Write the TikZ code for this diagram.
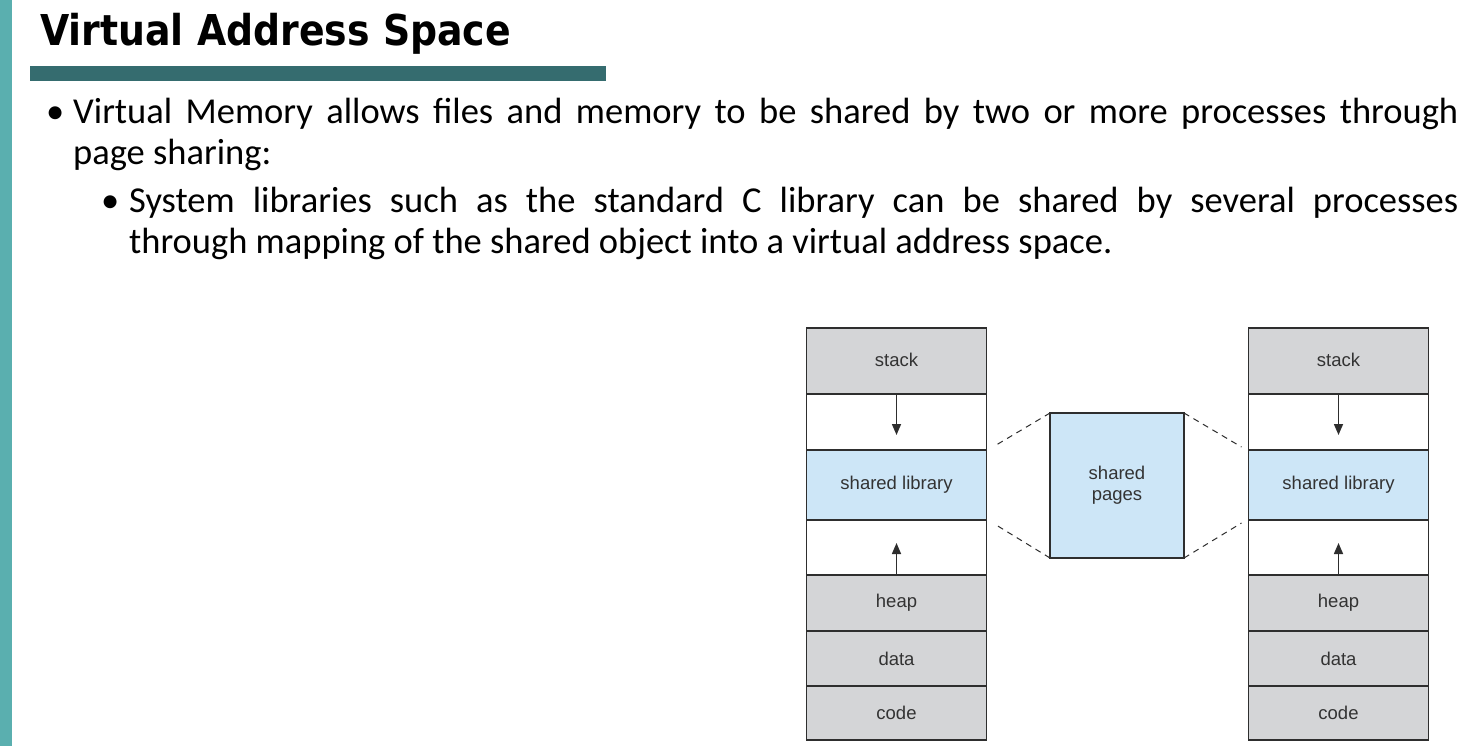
\documentclass[tikz,border=0pt]{standalone}
\usepackage{fontspec}
\setmainfont{Carlito}
\newfontfamily\titlefont{DejaVu Sans}
\newfontfamily\diagfont{Liberation Sans}
\usetikzlibrary{arrows.meta,calc}
\definecolor{tealbar}{HTML}{5AAFAF}
\definecolor{darkbar}{HTML}{356C6F}
\definecolor{cellgray}{HTML}{D4D5D7}
\definecolor{cellblue}{HTML}{CDE6F7}
\definecolor{edgegray}{HTML}{2E2E2E}
\definecolor{labelgray}{HTML}{333333}
\begin{document}
\begin{tikzpicture}[x=1pt,y=-1pt,
  cell/.style={draw=edgegray, line width=1.3pt, minimum width=180pt, inner sep=0pt, outer sep=0pt,
    font=\diagfont\fontsize{18.5}{21}\selectfont, text=labelgray, align=center},
  growarrow/.style={draw=edgegray, line width=1.5pt, -{Triangle[length=11pt,width=9pt]}},
  sharedash/.style={draw=edgegray, line width=1pt, dash pattern=on 6pt off 5pt},
  body/.style={anchor=base west, inner sep=0pt, font=\fontsize{36.5}{41}\selectfont}
]
\useasboundingbox (0,0) rectangle (1468,746);
\fill[white] (0,0) rectangle (1468,746);
\fill[tealbar] (0,0) rectangle (12,746);
\fill[darkbar] (30,66) rectangle (606,81);
\node[anchor=base west, inner sep=0pt] (title) at (40,46)
  {\scalebox{0.89}[1]{\titlefont\bfseries\fontsize{42.5}{50}\selectfont Virtual Address Space}};

\node[body] (b1) at (46,124) {•};
\node[body] (l1) at (73,124) {\makebox[1385pt][s]{Virtual Memory allows files and memory to be shared by two or more processes through}};
\node[body] (l2) at (73,165) {page sharing:};
\node[body] (b2) at (101,213) {•};
\node[body] (l3) at (129,213) {\makebox[1329pt][s]{System libraries such as the standard C library can be shared by several processes}};
\node[body] (l4) at (129,254) {through mapping of the shared object into a virtual address space.};

% left process
\node[cell, fill=cellgray, minimum height=66pt] (Lstack) at (896.5,361) {\raisebox{1.5pt}{stack}};
\node[cell, fill=white,    minimum height=56pt] (Lgap1)  at (896.5,422) {};
\node[cell, fill=cellblue, minimum height=70pt] (Llib)   at (896.5,485) {shared library};
\node[cell, fill=white,    minimum height=55pt] (Lgap2)  at (896.5,547.5) {};
\node[cell, fill=cellgray, minimum height=56pt] (Lheap)  at (896.5,603) {heap};
\node[cell, fill=cellgray, minimum height=55pt] (Ldata)  at (896.5,658.5) {data};
\node[cell, fill=cellgray, minimum height=54pt] (Lcode)  at (896.5,713) {code};

% right process
\node[cell, fill=cellgray, minimum height=66pt] (Rstack) at (1338.5,361) {\raisebox{1.5pt}{stack}};
\node[cell, fill=white,    minimum height=56pt] (Rgap1)  at (1338.5,422) {};
\node[cell, fill=cellblue, minimum height=70pt] (Rlib)   at (1338.5,485) {shared library};
\node[cell, fill=white,    minimum height=55pt] (Rgap2)  at (1338.5,547.5) {};
\node[cell, fill=cellgray, minimum height=56pt] (Rheap)  at (1338.5,603) {heap};
\node[cell, fill=cellgray, minimum height=55pt] (Rdata)  at (1338.5,658.5) {data};
\node[cell, fill=cellgray, minimum height=54pt] (Rcode)  at (1338.5,713) {code};

% shared pages
\node[cell, fill=cellblue, minimum width=134pt, minimum height=145pt] (pages) at (1117,485.5)
  {\raisebox{5.5pt}{\begin{tabular}{@{}c@{}}shared\\pages\end{tabular}}};

% growth arrows
\coordinate (Ldown) at (896.5,435);
\coordinate (Lup) at (896.5,543);
\coordinate (Rdown) at (1338.5,435);
\coordinate (Rup) at (1338.5,543);
\draw[growarrow] (Lstack.south) -- (Ldown);
\draw[growarrow] (Lheap.north) -- (Lup);
\draw[growarrow] (Rstack.south) -- (Rdown);
\draw[growarrow] (Rheap.north) -- (Rup);

% mapping lines
\coordinate (LT) at ($(Llib.north east)+(8,-4)$);
\coordinate (LB) at ($(Llib.south east)+(8,4)$);
\coordinate (RT) at ($(Rlib.north west)+(-7,-3)$);
\coordinate (RB) at ($(Rlib.south west)+(-7,3)$);
\draw[sharedash] (pages.north west) -- (LT);
\draw[sharedash] (pages.south west) -- (LB);
\draw[sharedash] (pages.north east) -- (RT);
\draw[sharedash] (pages.south east) -- (RB);
\end{tikzpicture}
\end{document}
